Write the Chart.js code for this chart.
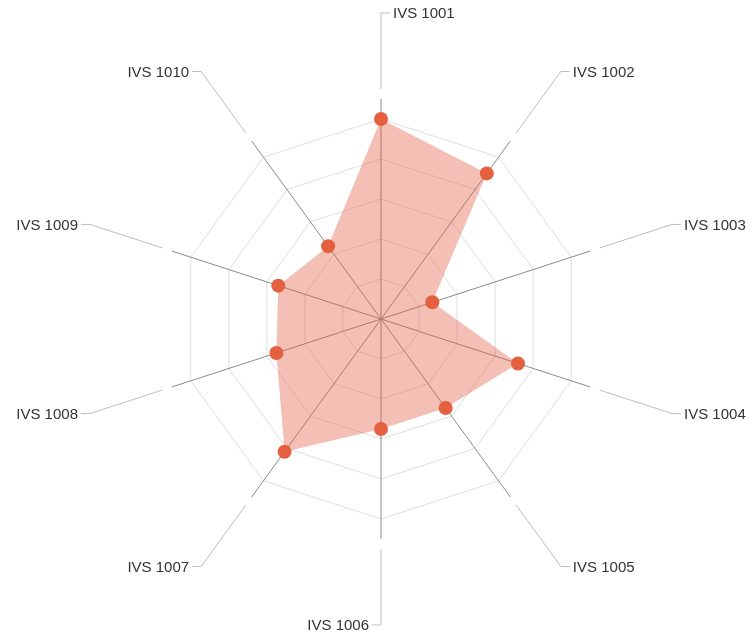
<!DOCTYPE html>
<html>
<head>
<meta charset="utf-8">
<script src="https://cdn.jsdelivr.net/npm/chart.js@4"></script>
<style>
  body { margin: 0; background: #fff; }
  #wrap { width: 750px; height: 635px; }
</style>
</head>
<body>
<div id="wrap"><canvas id="chart" width="750" height="635"></canvas></div>
<script>
const categories = ['IVS 1001', 'IVS 1002', 'IVS 1003', 'IVS 1004', 'IVS 1005',
                    'IVS 1006', 'IVS 1007', 'IVS 1008', 'IVS 1009', 'IVS 1010']
const values = [100, 90, 27, 72, 55, 55, 82, 55, 54, 45]
const scale_max = 110
const scale_step = 20

// leader lines run from the end of the axis out to the label
const leader_start = 115
const leader_end = 153

const leader_labels = {
    id: 'leaderLabels',
    afterDraw(chart) {
        const ctx = chart.ctx
        const r = chart.scales.r
        const d0 = r.getDistanceFromCenterForValue(leader_start)
        const d1 = r.getDistanceFromCenterForValue(leader_end)
        ctx.save()
        ctx.font = '15px "Liberation Sans", Arial, sans-serif'
        ctx.textBaseline = 'middle'
        categories.forEach((label, i) => {
            const a = r.getPointPosition(i, d0)
            const b = r.getPointPosition(i, d1)
            // left half (and the bottom one) put text on the left side
            const left = b.x < r.xCenter - 1 || (Math.abs(b.x - r.xCenter) <= 1 && b.y > r.yCenter)
            const dir = left ? -1 : 1
            const hx = b.x + dir * 9
            ctx.strokeStyle = '#bdbdbd'
            ctx.lineWidth = 1
            ctx.beginPath()
            ctx.moveTo(a.x, a.y)
            ctx.lineTo(b.x, b.y)
            ctx.lineTo(hx, b.y)
            ctx.stroke()
            ctx.fillStyle = '#333'
            ctx.textAlign = left ? 'right' : 'left'
            ctx.fillText(label, hx + dir * 3, b.y + 1)
        })
        ctx.restore()
    }
}

const chart = new Chart(document.querySelector('#chart'), {
    type: 'radar',
    data: {
        labels: categories,
        datasets: [{
            data: values,
            backgroundColor: 'rgba(228, 96, 70, 0.4)',
            borderWidth: 0,
            fill: true,
            pointRadius: 7,
            pointHoverRadius: 7,
            pointBackgroundColor: '#e4603f',
            pointBorderWidth: 0,
        }],
    },
    options: {
        responsive: false,
        animation: false,
        layout: {
            padding: { left: 12, right: 0, top: 99, bottom: 96 },
        },
        plugins: {
            legend: { display: false },
            tooltip: { enabled: false },
        },
        scales: {
            r: {
                min: 0,
                max: scale_max,
                ticks: {
                    display: false,
                    stepSize: scale_step,
                    includeBounds: false,
                },
                grid: {
                    color: '#dedede',
                    lineWidth: 1,
                },
                angleLines: {
                    color: '#8a8a8a',
                    lineWidth: 1,
                },
                pointLabels: { display: false },
            }
        }
    },
    plugins: [leader_labels],
});
</script>
</body>
</html>
